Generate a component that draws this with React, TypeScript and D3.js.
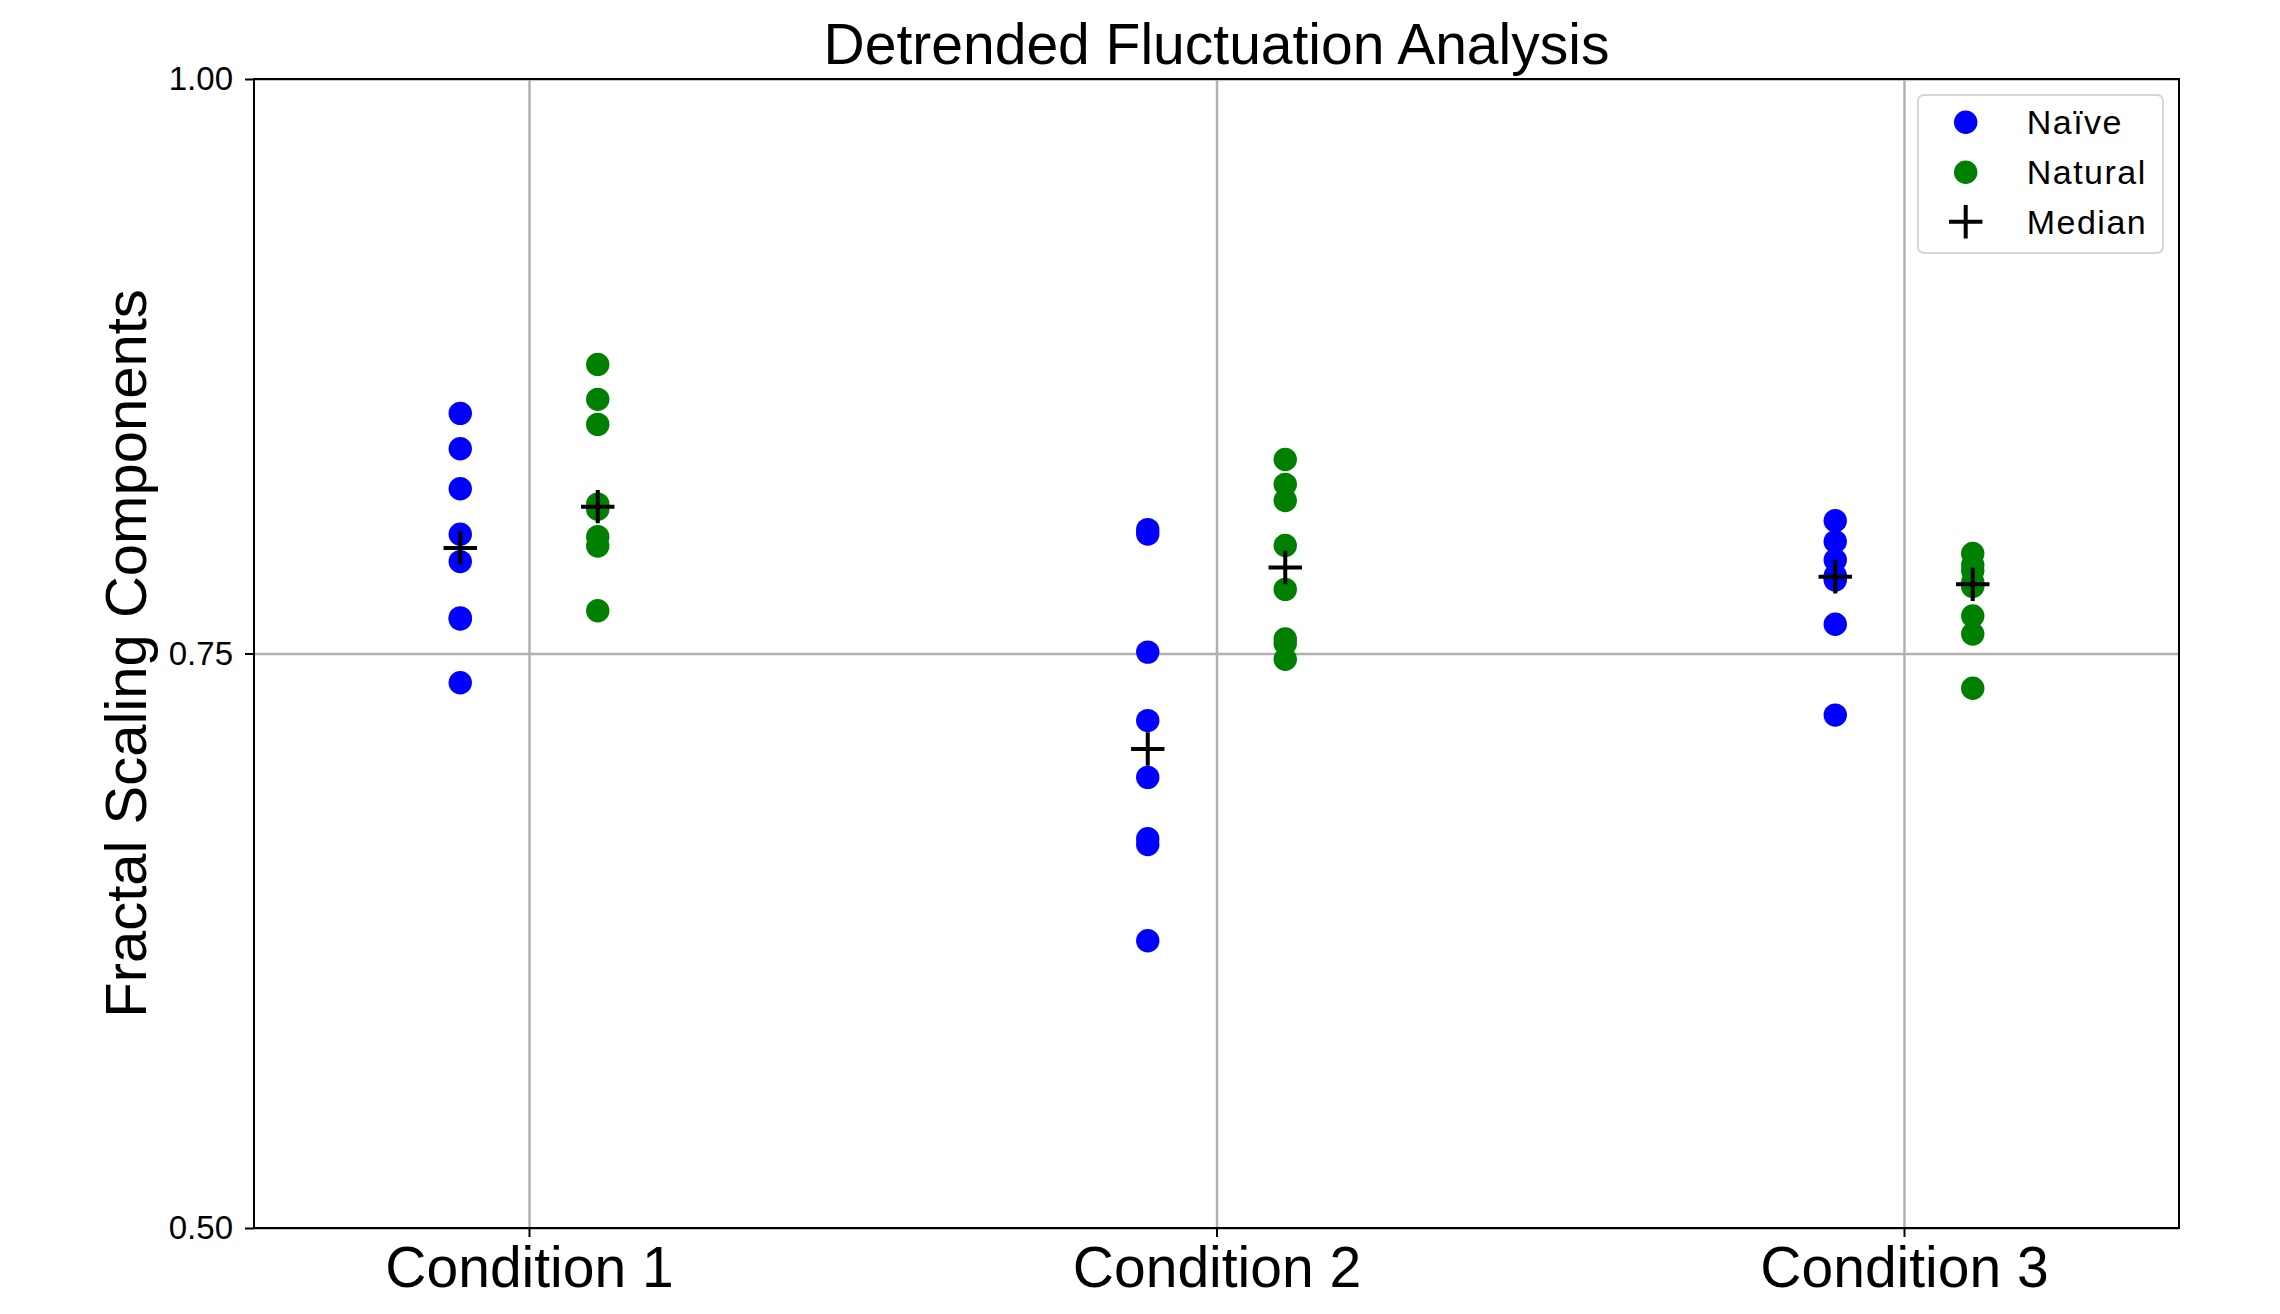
import { useRef, useEffect } from "react";
import * as d3 from "d3";

const conditions = ["Condition 1", "Condition 2", "Condition 3"];

// one array per condition
const naive = [
  [0.8545, 0.8391, 0.8217, 0.8019, 0.79, 0.7655, 0.765, 0.7373],
  [0.8039, 0.802, 0.7506, 0.7208, 0.6961, 0.6694, 0.6669, 0.625],
  [0.8078, 0.7987, 0.7907, 0.7838, 0.783, 0.782, 0.7627, 0.7232],
];

const natural = [
  [0.8758, 0.8606, 0.8497, 0.815, 0.8128, 0.8008, 0.7968, 0.7686],
  [0.8344, 0.8236, 0.8166, 0.797, 0.7779, 0.7563, 0.7544, 0.7475],
  [0.7935, 0.7885, 0.786, 0.781, 0.7792, 0.7663, 0.7585, 0.7349],
];

const yTicks = [0.5, 0.75, 1.0];
const legendLabels = ["Naïve", "Natural", "Median"];
const colors = ["#0000ff", "#008000"];

const FONT = "Arial, 'Liberation Sans', Helvetica, sans-serif";

export default function App() {
  const svgRef = useRef<SVGSVGElement>(null);

  useEffect(() => {
    const svg = svgRef.current;
    if (!svg) return;

    const width = 2280;
    const height = 1314;
    const margin = { top: 79, right: 101, bottom: 86, left: 254 };
    const innerW = width - margin.left - margin.right;
    const innerH = height - margin.top - margin.bottom;

    const x = d3.scaleLinear().domain([0.6, 3.4]).range([0, innerW]);
    const y = d3.scaleLinear().domain([0.5, 1.0]).range([innerH, 0]);

    const sel = d3.select(svg);
    sel.selectAll("*").remove();
    sel.attr("width", width).attr("height", height);

    sel
      .append("rect")
      .attr("width", width)
      .attr("height", height)
      .attr("fill", "#fff");

    const g = sel.append("g").attr("transform", `translate(${margin.left},${margin.top})`);

    const xPos = conditions.map((_, i) => i + 1);

    // grid
    g.append("g")
      .attr("transform", `translate(0,${innerH})`)
      .call(d3.axisBottom(x).tickValues(xPos).tickSize(-innerH).tickFormat(() => ""))
      .call((a) => a.select(".domain").remove())
      .call((a) => a.selectAll("line").attr("stroke", "#b0b0b0").attr("stroke-width", 2.5));

    g.append("g")
      .call(d3.axisLeft(y).tickValues(yTicks).tickSize(-innerW).tickFormat(() => ""))
      .call((a) => a.select(".domain").remove())
      .call((a) => a.selectAll("line").attr("stroke", "#b0b0b0").attr("stroke-width", 2.5));

    // points
    const groups = [naive, natural];
    const offsets = [-0.1, 0.1];
    groups.forEach((grp, gi) => {
      grp.forEach((vals, ci) => {
        g.append("g")
          .selectAll("circle")
          .data(vals)
          .join("circle")
          .attr("cx", x(xPos[ci] + offsets[gi]))
          .attr("cy", (d) => y(d))
          .attr("r", 11.7)
          .attr("fill", colors[gi]);
      });
    });

    // medians
    const arm = 16.7;
    groups.forEach((grp, gi) => {
      grp.forEach((vals, ci) => {
        const cx = x(xPos[ci] + offsets[gi]);
        const cy = y(d3.median(vals) as number);
        g.append("path")
          .attr("d", `M${cx - arm},${cy}H${cx + arm}M${cx},${cy - arm}V${cy + arm}`)
          .attr("stroke", "#000")
          .attr("stroke-width", 4)
          .attr("fill", "none");
      });
    });

    // axes
    g.append("g")
      .attr("transform", `translate(0,${innerH})`)
      .call(
        d3
          .axisBottom(x)
          .tickValues(xPos)
          .tickSize(9)
          .tickPadding(10)
          .tickFormat((d) => conditions[(d as number) - 1])
      )
      .call((a) => a.select(".domain").remove())
      .call((a) => a.selectAll("line").attr("stroke", "#000").attr("stroke-width", 2))
      .call((a) =>
        a.selectAll("text").attr("fill", "#000").attr("font-size", "57px").attr("font-family", FONT)
      );

    g.append("g")
      .call(d3.axisLeft(y).tickValues(yTicks).tickSize(9).tickPadding(12).tickFormat(d3.format(".2f")))
      .call((a) => a.select(".domain").remove())
      .call((a) => a.selectAll("line").attr("stroke", "#000").attr("stroke-width", 2))
      .call((a) =>
        a.selectAll("text").attr("fill", "#000").attr("font-size", "33px").attr("font-family", FONT)
      );

    // spines
    g.append("rect")
      .attr("width", innerW)
      .attr("height", innerH)
      .attr("fill", "none")
      .attr("stroke", "#000")
      .attr("stroke-width", 2);

    // title
    sel
      .append("text")
      .attr("x", margin.left + innerW / 2)
      .attr("y", 64)
      .attr("text-anchor", "middle")
      .attr("font-family", FONT)
      .attr("font-size", "57px")
      .attr("fill", "#000")
      .text("Detrended Fluctuation Analysis");

    // y label
    sel
      .append("text")
      .attr("transform", `translate(146,${margin.top + innerH / 2}) rotate(-90)`)
      .attr("text-anchor", "middle")
      .attr("font-family", FONT)
      .attr("font-size", "58px")
      .attr("fill", "#000")
      .text("Fractal Scaling Components");

    // legend
    const lg = sel.append("g").attr("transform", `translate(1918,95)`);
    lg.append("rect")
      .attr("width", 245)
      .attr("height", 158)
      .attr("rx", 6)
      .attr("fill", "#fff")
      .attr("fill-opacity", 0.8)
      .attr("stroke", "#d6d6d6")
      .attr("stroke-width", 2);

    const rowY = [27.3, 77.3, 126.7];
    legendLabels.forEach((lab, i) => {
      const cy = rowY[i];
      if (i < 2) {
        lg.append("circle").attr("cx", 47.7).attr("cy", cy).attr("r", 11.7).attr("fill", colors[i]);
      } else {
        lg.append("path")
          .attr("d", `M${47.7 - arm},${cy}H${47.7 + arm}M47.7,${cy - arm}V${cy + arm}`)
          .attr("stroke", "#000")
          .attr("stroke-width", 4);
      }
      lg.append("text")
        .attr("x", 108.7)
        .attr("y", cy + 12)
        .attr("font-family", FONT)
        .attr("font-size", "34px")
        .attr("letter-spacing", "1.5px")
        .attr("fill", "#000")
        .text(lab);
    });
  }, []);

  return <svg ref={svgRef} style={{ position: "absolute", left: 0, top: 0 }} />;
}
